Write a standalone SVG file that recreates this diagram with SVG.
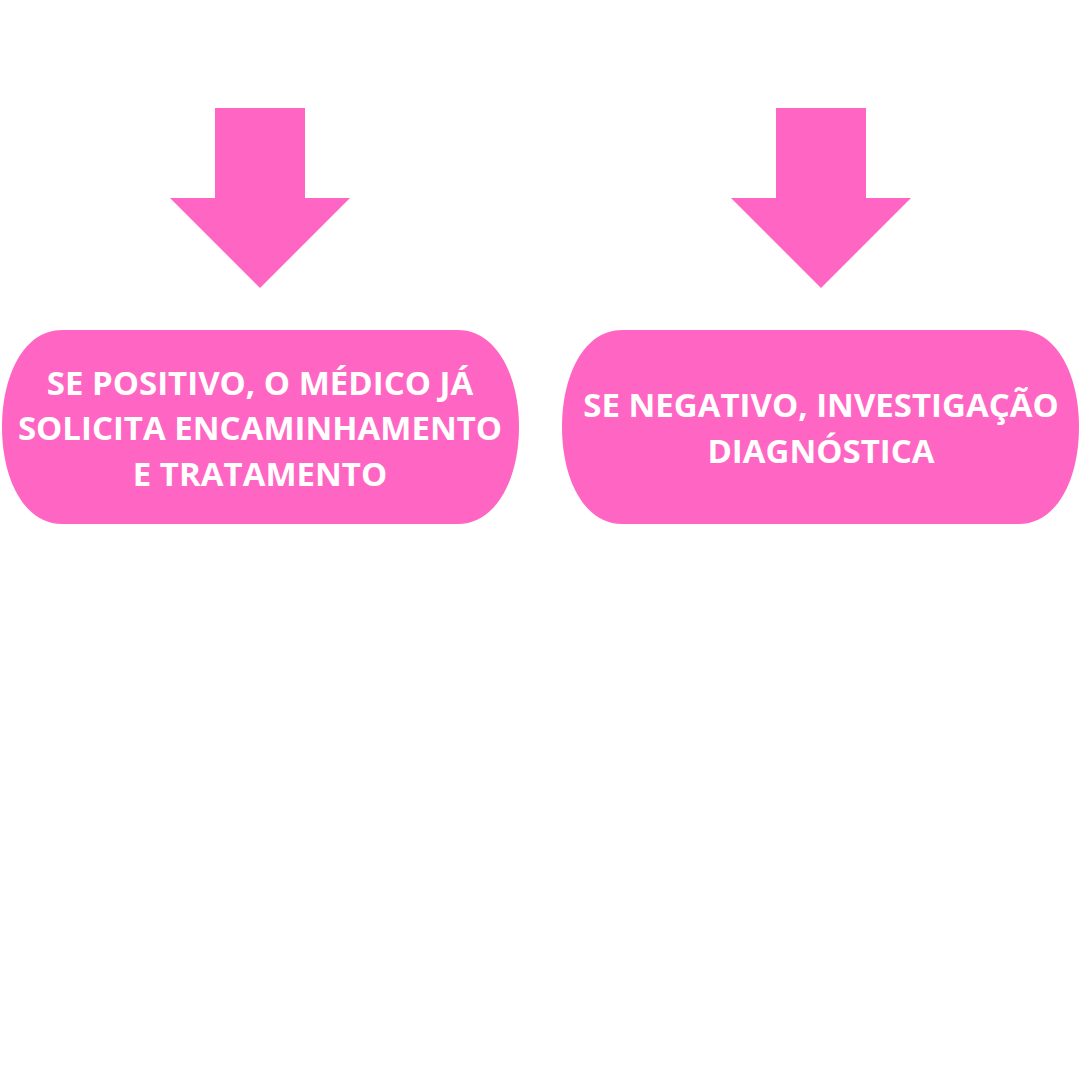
<svg xmlns="http://www.w3.org/2000/svg" width="1080" height="1080" viewBox="0 0 1080 1080">
<style>
.shape{fill:#FF66C4}
.t{font-family:"Open Sans","Noto Sans","Liberation Sans",sans-serif;font-weight:700;font-size:33px;fill:#FFFFFF;text-anchor:middle}
</style>
<rect width="1080" height="1080" fill="#FFFFFF"/>
<g id="connectors">
<polygon id="arrow-left" class="shape" points="215,108 305,108 305,198 350,198 260,288 170,198 215,198"/>
<polygon id="arrow-right" class="shape" points="776,108 866,108 866,198 911,198 821,288 731,198 776,198"/>
</g>
<g id="node-positive">
<path class="shape" d="M62,330 H458 C496,330 519,375 519,427 C519,479 496,524 458,524 H62 C24,524 2,479 2,427 C2,375 24,330 62,330 Z"/>
<text class="t" x="260" y="395">SE POSITIVO, O MÉDICO JÁ</text>
<text class="t" x="260" y="440">SOLICITA ENCAMINHAMENTO</text>
<text class="t" x="260" y="486">E TRATAMENTO</text>
</g>
<g id="node-negative">
<path class="shape" d="M622,330 H1019 C1057,330 1079,375 1079,427 C1079,479 1057,524 1019,524 H622 C584,524 562,479 562,427 C562,375 584,330 622,330 Z"/>
<text class="t" x="821" y="417">SE NEGATIVO, INVESTIGAÇÃO</text>
<text class="t" x="821" y="463">DIAGNÓSTICA</text>
</g>
</svg>
